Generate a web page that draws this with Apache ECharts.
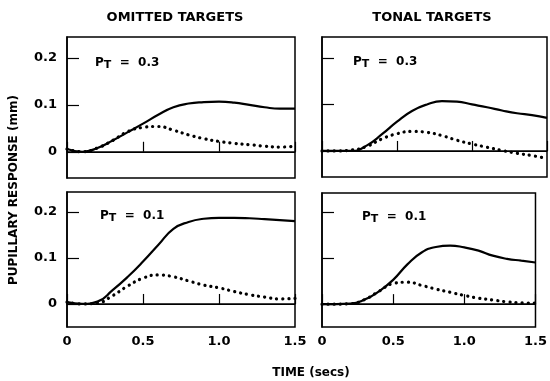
<!DOCTYPE html>
<html>
<head>
<meta charset="utf-8">
<script src="https://cdn.jsdelivr.net/npm/echarts@6/dist/echarts.min.js"></script>
<style>
  html, body { margin: 0; padding: 0; background: #fff; }
  #main { width: 550px; height: 381px; }
</style>
</head>
<body>
<div id="main"></div>
<script>
var dom = document.getElementById("main");
var myChart = echarts.init(dom);

// time points (secs)
var times = [0, 0.1, 0.2, 0.3, 0.4, 0.5, 0.6, 0.7, 0.8, 0.9, 1.0, 1.1, 1.2, 1.3, 1.4, 1.5];

// omitted targets, P_T = 0.3
var omit3Solid = [0.006, 0.0, 0.008, 0.024, 0.042, 0.06, 0.079, 0.095, 0.103, 0.106, 0.107, 0.105, 0.1, 0.095, 0.092, 0.092];
var omit3Dots  = [0.006, 0.0, 0.008, 0.024, 0.043, 0.052, 0.054, 0.046, 0.036, 0.028, 0.022, 0.018, 0.015, 0.012, 0.01, 0.012];
// tonal targets, P_T = 0.3
var tonal3Solid = [0, 0, 0.0, 0.012, 0.036, 0.063, 0.086, 0.1, 0.107, 0.106, 0.1, 0.094, 0.087, 0.081, 0.077, 0.071];
var tonal3Dots  = [0, 0, 0.002, 0.01, 0.026, 0.037, 0.042, 0.04, 0.033, 0.023, 0.015, 0.008, 0.001, -0.005, -0.01, -0.016];
// omitted targets, P_T = 0.1
var omit1Solid = [0.004, 0.0, 0.005, 0.03, 0.059, 0.092, 0.128, 0.163, 0.178, 0.185, 0.187, 0.187, 0.186, 0.184, 0.182, 0.18];
var omit1Dots  = [0.004, 0, 0.002, 0.018, 0.039, 0.056, 0.063, 0.059, 0.05, 0.041, 0.035, 0.027, 0.02, 0.015, 0.011, 0.012];
// tonal targets, P_T = 0.1
var tonal1Solid = [0, 0, 0.001, 0.01, 0.028, 0.053, 0.087, 0.113, 0.125, 0.128, 0.124, 0.117, 0.106, 0.099, 0.095, 0.091];
var tonal1Dots  = [0, 0, 0.001, 0.01, 0.028, 0.045, 0.048, 0.041, 0.033, 0.026, 0.019, 0.013, 0.009, 0.005, 0.003, 0.002];

var yTicks = [0, 0.1, 0.2];
var xTicks = ['0', '0.5', '1.0', '1.5'];

var font = "'DejaVu Sans', 'Liberation Sans', sans-serif";

function pairs(vals) {
    return times.map(function (t, i) { return [t, vals[i]]; });
}

var grids = [
    { left: 67, top: 37, width: 228, height: 141 },
    { left: 322, top: 37, width: 225, height: 140 },
    { left: 67, top: 192, width: 228, height: 135 },
    { left: 322, top: 193, width: 225, height: 134 }
];
var yRange = [[-0.056, 0.245], [-0.056, 0.245], [-0.05, 0.243], [-0.05, 0.243]];
var panels = [
    [omit3Solid, omit3Dots],
    [tonal3Solid, tonal3Dots],
    [omit1Solid, omit1Dots],
    [tonal1Solid, tonal1Dots]
];

var xAxes = [], yAxes = [], series = [];
grids.forEach(function (g, i) {
    g.show = true;
    g.borderColor = '#000';
    g.borderWidth = 1.5;
    g.containLabel = false;
    xAxes.push({
        type: 'value', gridIndex: i, min: 0, max: 1.5, interval: 0.5,
        axisLine: { show: true, lineStyle: { color: '#000', width: 1.5 } },
        axisTick: { show: true, inside: true, length: 10, lineStyle: { color: '#000', width: 1.2 } },
        axisLabel: {
            show: i >= 2, color: '#000', fontFamily: font, fontWeight: 'bold', fontSize: 13, margin: 8,
            formatter: function (v) { return xTicks[Math.round(v / 0.5)]; }
        },
        splitLine: { show: false }
    });
    yAxes.push({
        type: 'value', gridIndex: i, min: yRange[i][0], max: yRange[i][1],
        axisLine: { show: true, lineStyle: { color: '#000', width: 1.5 } },
        axisTick: { show: true, inside: true, length: 12, customValues: yTicks, lineStyle: { color: '#000', width: 1.2 } },
        axisLabel: {
            show: i % 2 === 0, customValues: yTicks, color: '#000', fontFamily: font, fontWeight: 'bold', fontSize: 13, margin: 10,
            formatter: function (v) { return v === 0 ? '0' : v.toFixed(1); }
        },
        splitLine: { show: false }
    });
    series.push({
        type: 'line', xAxisIndex: i, yAxisIndex: i, smooth: true, symbol: 'none',
        data: pairs(panels[i][0]),
        lineStyle: { color: '#000', width: 2.2 },
        markLine: {
            silent: true, symbol: 'none', label: { show: false },
            lineStyle: { color: '#000', width: 1, type: 'solid' },
            data: [{ yAxis: 0 }]
        },
        z: 3
    });
    series.push({
        type: 'line', xAxisIndex: i, yAxisIndex: i, smooth: true, symbol: 'none',
        data: pairs(panels[i][1]),
        lineStyle: { color: '#000', width: 3.2, type: [0.1, 6], cap: 'round' },
        z: 4
    });
});

var rich = {
    p: { fontSize: 12, fontWeight: 'bold', fontFamily: font, fill: '#000', lineHeight: 14, verticalAlign: 'top' },
    s: { fontSize: 11, fontWeight: 'bold', fontFamily: font, fill: '#000', lineHeight: 12, verticalAlign: 'bottom', padding: [9, 0, 0, 0] }
};
function ptLabel(x, y, val) {
    return {
        type: 'text', left: x, top: y,
        style: { text: '{p|P}{s|T}{p|  =  ' + val + '}', rich: rich, fill: '#000' }
    };
}

option = {
    animation: false,
    backgroundColor: '#fff',
    grid: grids,
    xAxis: xAxes,
    yAxis: yAxes,
    series: series,
    graphic: [
        { type: 'text', x: 175, y: 18, style: { text: 'OMITTED TARGETS', font: 'bold 13px ' + font, fill: '#000', textAlign: 'center', textVerticalAlign: 'middle' } },
        { type: 'text', x: 432, y: 18, style: { text: 'TONAL TARGETS', font: 'bold 13px ' + font, fill: '#000', textAlign: 'center', textVerticalAlign: 'middle' } },
        { type: 'text', x: 14, y: 190, rotation: Math.PI / 2, style: { text: 'PUPILLARY RESPONSE (mm)', font: 'bold 12px ' + font, fill: '#000', textAlign: 'center', textVerticalAlign: 'middle' } },
        { type: 'text', x: 311, y: 373, style: { text: 'TIME (secs)', font: 'bold 12px ' + font, fill: '#000', textAlign: 'center', textVerticalAlign: 'middle' } },
        ptLabel(95, 51, '0.3'),
        ptLabel(353, 50, '0.3'),
        ptLabel(100, 204, '0.1'),
        ptLabel(362, 205, '0.1')
    ]
};

if (option && typeof option === "object") {
    myChart.setOption(option, true);
}

window.addEventListener("resize", function () {
    myChart.resize();
});
</script>
</body>
</html>
